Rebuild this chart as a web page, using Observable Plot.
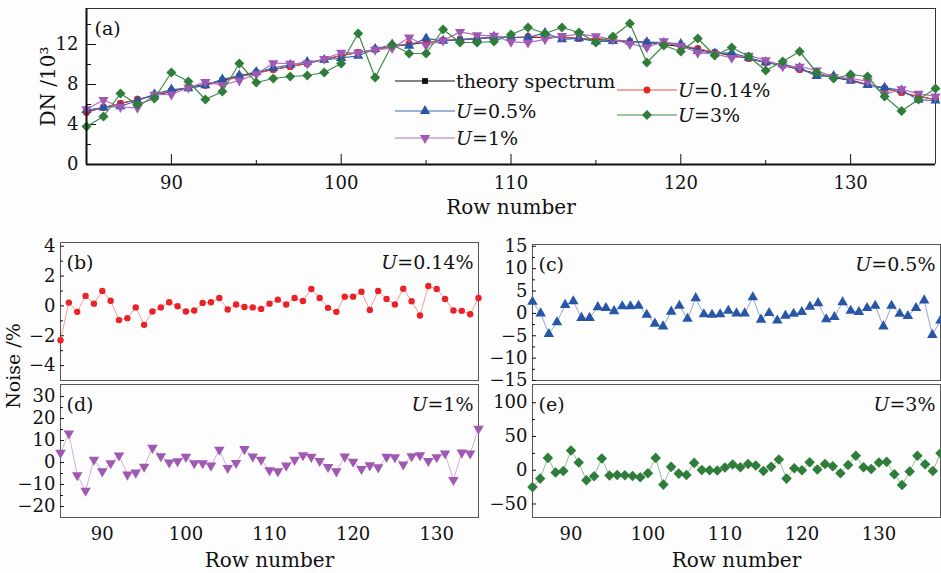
<!DOCTYPE html>
<html><head><meta charset="utf-8">
<script src="https://cdn.jsdelivr.net/npm/d3@7"></script>
<script src="https://cdn.jsdelivr.net/npm/@observablehq/plot@0.6"></script>
<style>
body{margin:0;background:#fdfdfd;}
#wrap{position:relative;width:941px;height:573px;overflow:hidden;font-family:"DejaVu Serif",serif;background:#fdfdfd;}
#wrap svg{position:absolute;left:0;}
#noiselab{position:absolute;left:13px;top:366px;transform:translate(-50%,-50%) rotate(-90deg);font-size:19px;white-space:nowrap;color:#111;}
</style></head><body><div id="wrap"><div id="noiselab">Noise /%</div></div>
<script>
// ---------- data ----------
const rows = [85,86,87,88,89,90,91,92,93,94,95,96,97,98,99,100,101,102,103,104,105,106,107,108,109,110,111,112,113,114,115,116,117,118,119,120,121,122,123,124,125,126,127,128,129,130,131,132,133,134,135];
const rowsE = [...rows, 136, 137, 138];
const theory = [5.3,5.7,6.1,6.5,6.9,7.3,7.7,8.0,8.4,8.8, 9.2,9.5,9.8,10.1,10.5,10.9,11.2,11.5,11.8,12.0, 12.2,12.4,12.5,12.6,12.7,12.7,12.7,12.7,12.7,12.6, 12.5,12.4,12.3,12.2,12.0,11.8,11.5,11.2,10.9,10.6, 10.2,9.9,9.5,9.1,8.7,8.4,8.0,7.6,7.2,6.8, 6.5];
const spec014 = [5.2,5.7,6.1,6.5,6.9,7.4,7.7,7.9,8.3,8.8, 9.1,9.5,9.8,10.1,10.5,10.9,11.2,11.5,11.8,12.1, 12.2,12.4,12.5,12.6,12.7,12.7,12.8,12.7,12.8,12.6, 12.6,12.5,12.3,12.2,12.1,11.9,11.6,11.2,11.0,10.6, 10.2,10.0,9.5,9.0,8.8,8.5,8.0,7.6,7.2,6.8, 6.5];
const spec05 = [5.44,5.7,5.82,6.37,7.03,7.5,7.62,7.92,8.52,8.9, 9.25,9.65,9.96,10.27,10.47,10.65,10.87,11.55,12.0,11.86, 12.61,12.37,12.46,12.57,12.78,12.7,12.7,13.16,12.52,12.61, 12.3,12.34,12.29,12.24,12.18,12.07,11.35,11.11,11.17,10.66, 10.23,10.02,9.66,8.84,8.85,8.39,7.95,7.69,7.41,6.47, 6.4];
const spec1 = [5.53,6.45,5.75,5.67,6.99,7.0,7.68,8.26,7.94,8.4, 9.03,10.14,10.08,10.1,10.56,11.18,11.17,11.47,11.63,12.7, 11.9,12.38,13.26,12.94,12.87,12.26,12.19,12.52,12.85,13.02, 12.83,12.49,12.05,11.71,12.32,11.85,11.17,11.05,10.66,10.88, 10.44,9.81,9.78,9.4,8.76,8.6,8.33,7.0,7.52,7.08, 6.8];
const spec3 = [3.8,4.8,7.1,6.0,6.6,9.2,8.3,6.5,7.3,10.1, 8.2,8.6,8.8,8.9,9.2,10.1,13.1,8.7,12.0,11.1, 11.1,13.5,12.2,12.2,12.3,13.0,13.7,13.1,13.7,13.2, 12.2,12.8,14.1,10.2,11.9,11.3,12.6,10.9,11.7,10.8, 9.4,10.3,11.3,9.2,8.6,9.0,8.8,6.8,5.35,6.5, 7.6];
const noise014 = [-2.3,0.22,-0.4,0.67,0.15,1.0,0.35,-0.95,-0.82,-0.1, -1.27,-0.38,-0.1,0.24,-0.02,-0.38,-0.31,0.2,0.24,0.53, -0.24,0.09,-0.07,-0.1,-0.2,0.15,0.42,0.09,0.53,0.33, 1.13,0.53,-0.13,-0.4,0.62,0.62,0.95,-0.27,1.0,0.47, 0.09,1.15,0.31,-0.64,1.33,1.13,0.47,-0.31,-0.33,-0.56, 0.53];
const noise05 = [2.6,0,-4.6,-2.0,1.9,2.7,-1.0,-1.0,1.4,1.2, 0.5,1.6,1.6,1.7,-0.3,-2.3,-2.9,0.4,1.7,-1.2, 3.4,-0.2,-0.3,-0.2,0.6,0,0,3.6,-1.4,0.1, -1.6,-0.5,-0.1,0.3,1.5,2.3,-1.3,-0.8,2.5,0.6, 0.3,1.2,1.7,-2.9,1.7,-0.1,-0.6,1.2,2.9,-4.8, -1.6];
const noise1 = [4.4,13.2,-5.8,-12.8,1.3,-4.0,-0.3,3.2,-5.5,-4.6, -1.9,6.7,2.9,0,0.6,2.6,-0.3,-0.3,-1.4,5.8, -2.5,-0.2,6.1,2.7,1.3,-3.5,-4.0,-1.4,1.2,3.3, 2.6,0.7,-2.0,-4.0,2.7,0.4,-2.9,-1.3,-2.2,2.6, 2.4,-0.9,2.9,3.3,0.7,2.4,4.1,-7.9,4.5,4.1, 15.4];
const noise3 = [-25,-12.4,18.3,-3.5,-1,29.2,11.4,-14.9,-8.9,17.3, -7.9,-6.9,-7.4,-8.4,-10.4,-4.5,18.3,-21.3,5,-5, -6.9,10.9,0.5,0,-0.5,4,8.4,4.5,9.4,6.9, -1,5,15.8,-12.4,3,0,11.9,1,9.4,5.9, -4.5,7.9,21.3,4.5,2,11.4,12.4,-5.9,-21.8,-2, 21.3,8.9,-1,25.2];
const seriesNames = ["theory spectrum","U=0.14%","U=0.5%","U=1%","U=3%"];
const seriesValues = [theory, spec014, spec05, spec1, spec3];
const xTicks = [90,100,110,120,130];
const xMinor = [95,105,115,125];
const yTicksA = [0,4,8,12], yMinorA = [2,6,10,14];
const yTicksB = [4,2,0,-2,-4], yMinorB = [3,1,-1,-3];
const yTicksC = [15,10,5,0,-5,-10,-15], yMinorC = [12.5,7.5,2.5,-2.5,-7.5,-12.5];
const yTicksD = [30,20,10,0,-10,-20], yMinorD = [25,15,5,-5,-15];
const yTicksE = [100,50,0,-50], yMinorE = [75,25,-25];

// ---------- styles ----------
const sty = {
  "theory spectrum": {color:"#111111", line:"#111111", symbol:"square", r:3.3, rotate:0},
  "U=0.14%": {color:"#ea2228", line:"#ee4a4a", symbol:"circle", r:3.4, rotate:0},
  "U=0.5%": {color:"#2856a6", line:"#3a66b3", symbol:"triangle", r:3.8, rotate:0},
  "U=1%": {color:"#a059b3", line:"#b070c0", symbol:"triangle", r:3.8, rotate:180},
  "U=3%": {color:"#2e7d3a", line:"#3f8a4a", symbol:"square", r:4.0, rotate:45}
};
const wrap = document.getElementById("wrap");
const FONT = "DejaVu Serif";

function italicU(svg) {
  d3.select(svg).selectAll("text").each(function() {
    const t = this.textContent;
    if (t.startsWith("U=") && this.children.length === 0) {
      this.textContent = "";
      const s = d3.select(this);
      s.append("tspan").attr("font-style","italic").text("U");
      s.append("tspan").text(t.slice(1));
    }
  });
}

// ---------- panel (a) ----------
const tableA = [];
seriesNames.forEach((s, k) => rows.forEach((x, i) => tableA.push({series: s, x, y: seriesValues[k][i]})));
const marksA = [
  Plot.ruleY([15.6], {stroke:"#333", strokeWidth:1}),
  Plot.ruleX([135], {stroke:"#333", strokeWidth:1}),
  Plot.axisY({ticks: yTicksA, tickSize: -10, tickPadding: 18, fontSize: 18, label: null}),
  Plot.axisY({ticks: [], label: "DN /10³", fontSize: 20, labelAnchor: "center", labelOffset: 46, labelArrow: "none"}),
  Plot.axisY({ticks: yMinorA, tickSize: -5, tickFormat: () => "", label: null}),
  Plot.axisX({ticks: xTicks, tickSize: -10, tickPadding: 22, fontSize: 18, label: null}),
  Plot.axisX({ticks: [], label: "Row number", fontSize: 20, labelAnchor: "center", labelOffset: 49, labelArrow: "none"}),
  Plot.axisX({ticks: xMinor, tickSize: -4, tickFormat: () => "", label: null})
];
seriesNames.forEach(s => {
  const d = tableA.filter(e => e.series === s);
  marksA.push(Plot.line(d, {x:"x", y:"y", stroke: sty[s].line, strokeWidth: 1.2}));
  marksA.push(Plot.dot(d, {x:"x", y:"y", symbol: sty[s].symbol, fill: sty[s].color, stroke: "none", r: sty[s].r, rotate: sty[s].rotate}));
});
marksA.push(Plot.ruleX([85], {stroke:"#111", strokeWidth:2}));
marksA.push(Plot.ruleY([0], {stroke:"#111", strokeWidth:2}));
marksA.push(Plot.text(["(a)"], {frameAnchor:"top-left", dx: 8, dy: 13, fontSize: 19, fill:"#111"}));

const plotA = Plot.plot({
  width: 941, height: 225,
  marginTop: 8, marginBottom: 61, marginLeft: 86, marginRight: 6,
  x: {domain: [85, 135]},
  y: {domain: [0, 15.6]},
  style: {background: "transparent", fontFamily: FONT, fontSize: "17px", color: "#111", overflow: "visible"},
  marks: marksA
});
plotA.style.top = "0px";
wrap.appendChild(plotA);

// legend for (a)
const lg = d3.select(plotA).append("g").attr("font-family", FONT).attr("font-size", 19).attr("fill", "#111").attr("text-anchor", "start");
const legendPos = [
  {s: "theory spectrum", x: 395, y: 81},
  {s: "U=0.5%", x: 395, y: 111},
  {s: "U=1%", x: 395, y: 138},
  {s: "U=0.14%", x: 617, y: 90},
  {s: "U=3%", x: 617, y: 115}
];
const symMap = {square: d3.symbolSquare, circle: d3.symbolCircle, triangle: d3.symbolTriangle};
legendPos.forEach(p => {
  const st = sty[p.s];
  lg.append("line").attr("x1", p.x).attr("x2", p.x + 60).attr("y1", p.y).attr("y2", p.y).attr("stroke", st.line).attr("stroke-width", 1.2);
  lg.append("path").attr("d", d3.symbol(symMap[st.symbol], Math.PI * st.r * st.r)())
    .attr("transform", `translate(${p.x + 30},${p.y}) rotate(${st.rotate})`).attr("fill", st.color);
  lg.append("text").attr("x", p.x + 61).attr("y", p.y).attr("dy", "0.35em").attr("text-anchor", "start").text(p.s);
});
italicU(plotA);

// ---------- noise panels ----------
function noisePanel(o) {
  const data = o.rows.map((x, i) => ({x, y: o.values[i]}));
  const st = sty[o.series];
  const marks = [
    Plot.frame({stroke: "#555", strokeWidth: 1}),
    Plot.axisY({ticks: o.yTicks, tickSize: -4, tickPadding: 9, fontSize: 18, label: null}),
    Plot.axisY({ticks: o.yMinor, tickSize: -3, tickFormat: () => "", label: null}),
    Plot.line(data, {x: "x", y: "y", stroke: st.line, strokeWidth: 0.7, strokeOpacity: 0.8}),
    Plot.dot(data, {x: "x", y: "y", symbol: st.symbol, fill: st.color, stroke: "none", r: o.r, rotate: st.rotate}),
    Plot.text([o.tag], {frameAnchor: "top-left", dx: 6, dy: 13, fontSize: 19, fill: "#111"}),
    Plot.text([o.series], {frameAnchor: "top-right", dx: -5, dy: 13, textAnchor: "end", fontSize: 19, fill: "#111"})
  ];
  if (o.showX) {
    marks.push(Plot.axisX({ticks: xTicks, tickSize: 0, tickPadding: 10, fontSize: 18, label: null}));
    marks.push(Plot.axisX({ticks: [], label: "Row number", fontSize: 20, labelAnchor: "center", labelOffset: 49, labelArrow: "none"}));
  }
  const p = Plot.plot({
    width: 941, height: o.height,
    marginTop: o.mt, marginBottom: o.mb, marginLeft: o.ml, marginRight: o.mr,
    x: {domain: o.xDomain, axis: o.showX ? undefined : null},
    y: {domain: o.yDomain},
    style: {background: "transparent", fontFamily: FONT, fontSize: "17px", color: "#111", overflow: "visible"},
    marks
  });
  p.style.top = o.top + "px";
  wrap.appendChild(p);
  italicU(p);
}

noisePanel({rows, values: noise014, series: "U=0.14%", tag: "(b)", r: 3.2, xDomain: [85,135], yDomain: [-5, 4.25], yTicks: yTicksB, yMinor: yMinorB, top: 230, height: 152, mt: 12, mb: 2, ml: 60, mr: 463, showX: false});
noisePanel({rows, values: noise05, series: "U=0.5%", tag: "(c)", r: 3.9, xDomain: [85,135], yDomain: [-15, 15.4], yTicks: yTicksC, yMinor: yMinorC, top: 232, height: 150, mt: 12, mb: 2, ml: 532, mr: 1, showX: false});
noisePanel({rows, values: noise1, series: "U=1%", tag: "(d)", r: 3.9, xDomain: [85,135], yDomain: [-25, 35.5], yTicks: yTicksD, yMinor: yMinorD, top: 382, height: 191, mt: 2, mb: 56, ml: 60, mr: 463, showX: true});
noisePanel({rows: rowsE, values: noise3, series: "U=3%", tag: "(e)", r: 4.2, xDomain: [85,138], yDomain: [-70, 127], yTicks: yTicksE, yMinor: yMinorE, top: 382, height: 191, mt: 2, mb: 56, ml: 532, mr: 1, showX: true});
</script>
</body></html>
